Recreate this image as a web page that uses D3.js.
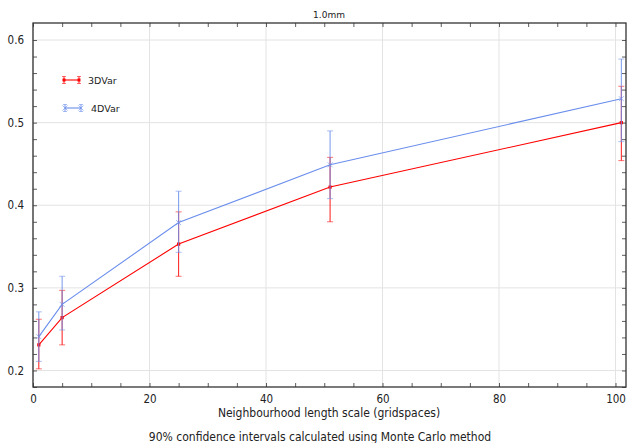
<!DOCTYPE html>
<html>
<head>
<meta charset="utf-8">
<script src="https://cdn.jsdelivr.net/npm/d3@7"></script>
<style>
  body { margin: 0; background: #fff; }
  svg { font-family: "DejaVu Sans", sans-serif; }
  .cond { font-family: "DejaVu Sans Condensed", "DejaVu Sans", sans-serif; font-stretch: condensed; }
</style>
</head>
<body>
<div id="main"></div>
<script>
// data
var lengthScales = [1, 5, 25, 51, 101];
var var3dMean = [0.231, 0.264, 0.353, 0.422, 0.500];
var var3dLow = [0.202, 0.231, 0.314, 0.380, 0.454];
var var3dHigh = [0.262, 0.297, 0.392, 0.458, 0.544];
var var4dMean = [0.241, 0.280, 0.379, 0.449, 0.529];
var var4dLow = [0.211, 0.249, 0.343, 0.408, 0.477];
var var4dHigh = [0.271, 0.314, 0.417, 0.490, 0.577];
var xTicks = [0, 20, 40, 60, 80, 100];
var yTicks = [0.2, 0.3, 0.4, 0.5, 0.6];

var width = 628, height = 443;
var padding = { top: 23, right: 2, bottom: 56, left: 33 };

var svg = d3.select("#main").append("svg")
    .attr("width", width)
    .attr("height", height);

var x = d3.scaleLinear().domain([0, 101.8]).range([padding.left, width - padding.right]);
var y = d3.scaleLinear().domain([0.18, 0.6206]).range([height - padding.bottom, padding.top]);

var axisColor = "#333";
var red = "#ff0000", blue = "#6a8eec";

// grid
svg.append("g").selectAll("line").data(xTicks).enter().append("line")
    .attr("x1", d => x(d)).attr("x2", d => x(d))
    .attr("y1", y.range()[0]).attr("y2", y.range()[1])
    .attr("stroke", "#e3e3e3").attr("stroke-width", 1);
svg.append("g").selectAll("line").data(yTicks).enter().append("line")
    .attr("x1", x.range()[0]).attr("x2", x.range()[1])
    .attr("y1", d => y(d)).attr("y2", d => y(d))
    .attr("stroke", "#e3e3e3").attr("stroke-width", 1);

// axes with inward ticks
var xMinor = d3.range(0, 101, 5);
var yMinor = d3.range(0.18, 0.62, 0.02);

function styleAxis(g) {
    g.select(".domain").remove();
    g.selectAll("line").attr("stroke", axisColor).attr("stroke-width", 0.8);
    g.selectAll("text").attr("fill", "#222").attr("class", "cond").style("font-size", "11.5px");
}

svg.append("g").attr("transform", "translate(0," + y.range()[0] + ")")
    .call(d3.axisBottom(x).tickValues(xMinor).tickSize(-4).tickFormat(d => d % 20 === 0 ? d : "").tickPadding(8))
    .call(styleAxis);
svg.append("g").attr("transform", "translate(0," + y.range()[1] + ")")
    .call(d3.axisTop(x).tickValues(xMinor).tickSize(-4).tickFormat(""))
    .call(styleAxis);
svg.append("g").attr("transform", "translate(" + x.range()[0] + ",0)")
    .call(d3.axisLeft(y).tickValues(yMinor).tickSize(-4).tickFormat(d => {
        var r = Math.round(d * 100);
        return r % 10 === 0 ? d3.format(".1f")(d) : "";
    }).tickPadding(9))
    .call(styleAxis);
svg.append("g").attr("transform", "translate(" + x.range()[1] + ",0)")
    .call(d3.axisRight(y).tickValues(yMinor).tickSize(-4).tickFormat(""))
    .call(styleAxis);

// frame
svg.append("rect")
    .attr("x", x.range()[0]).attr("y", y.range()[1])
    .attr("width", x.range()[1] - x.range()[0])
    .attr("height", y.range()[0] - y.range()[1])
    .attr("fill", "none").attr("stroke", axisColor).attr("stroke-width", 1.3);

// series
var series = [
    { name: "3DVar", color: red, mean: var3dMean, low: var3dLow, high: var3dHigh, marker: "dot" },
    { name: "4DVar", color: blue, mean: var4dMean, low: var4dLow, high: var4dHigh, marker: "x" }
];

var line = d3.line().x(d => x(d.x)).y(d => y(d.m));

series.forEach(function (s) {
    var pts = lengthScales.map((v, i) => ({ x: v, m: s.mean[i], lo: s.low[i], hi: s.high[i] }));
    var g = svg.append("g");
    // error bars
    var eb = g.selectAll(".eb").data(pts).enter().append("g");
    eb.append("line")
        .attr("x1", d => x(d.x)).attr("x2", d => x(d.x))
        .attr("y1", d => y(d.lo)).attr("y2", d => y(d.hi))
        .attr("stroke", s.color).attr("stroke-width", 1).attr("opacity", 0.9);
    eb.append("line")
        .attr("x1", d => x(d.x) - 3).attr("x2", d => x(d.x) + 3)
        .attr("y1", d => y(d.lo)).attr("y2", d => y(d.lo))
        .attr("stroke", s.color).attr("stroke-width", 1).attr("opacity", 0.55);
    eb.append("line")
        .attr("x1", d => x(d.x) - 3).attr("x2", d => x(d.x) + 3)
        .attr("y1", d => y(d.hi)).attr("y2", d => y(d.hi))
        .attr("stroke", s.color).attr("stroke-width", 1).attr("opacity", 0.55);
    g.append("path").datum(pts)
        .attr("d", line).attr("fill", "none")
        .attr("stroke", s.color).attr("stroke-width", 1.1);
    if (s.marker === "dot") {
        g.selectAll(".mk").data(pts).enter().append("rect")
            .attr("x", d => x(d.x) - 1.6).attr("y", d => y(d.m) - 1.6)
            .attr("width", 3.2).attr("height", 3.2).attr("fill", s.color);
    } else {
        g.selectAll(".mk").data(pts).enter().append("path")
            .attr("d", d => {
                var cx = x(d.x), cy = y(d.m), r = 2.5;
                return "M" + (cx - r) + "," + (cy - r) + "L" + (cx + r) + "," + (cy + r) +
                    "M" + (cx - r) + "," + (cy + r) + "L" + (cx + r) + "," + (cy - r);
            })
            .attr("stroke", s.color).attr("stroke-width", 1).attr("opacity", 0.6);
    }
});

// legend
var legend = svg.append("g").attr("transform", "translate(52,66)");
legend.append("rect").attr("width", 74).attr("height", 56).attr("fill", "#fff");
var legendRows = [
    { s: series[0], y: 14, x0: 12, x1: 27, tx: 36 },
    { s: series[1], y: 42, x0: 13, x1: 29, tx: 39 }
];
legendRows.forEach(function (r) {
    var lg = legend.append("g");
    lg.append("line").attr("x1", r.x0).attr("x2", r.x1).attr("y1", r.y).attr("y2", r.y)
        .attr("stroke", r.s.color).attr("stroke-width", 1.1);
    [r.x0, r.x1].forEach(function (px) {
        lg.append("line").attr("x1", px).attr("x2", px).attr("y1", r.y - 3.5).attr("y2", r.y + 3.5)
            .attr("stroke", r.s.color).attr("stroke-width", 1).attr("opacity", 0.9);
        lg.append("line").attr("x1", px - 2).attr("x2", px + 2).attr("y1", r.y - 3.5).attr("y2", r.y - 3.5)
            .attr("stroke", r.s.color).attr("stroke-width", 1).attr("opacity", 0.55);
        lg.append("line").attr("x1", px - 2).attr("x2", px + 2).attr("y1", r.y + 3.5).attr("y2", r.y + 3.5)
            .attr("stroke", r.s.color).attr("stroke-width", 1).attr("opacity", 0.55);
        if (r.s.marker === "dot") {
            lg.append("rect").attr("x", px - 1.5).attr("y", r.y - 1.5).attr("width", 3).attr("height", 3).attr("fill", r.s.color);
        } else {
            lg.append("path").attr("d", "M" + (px - 2.5) + "," + (r.y - 2.5) + "L" + (px + 2.5) + "," + (r.y + 2.5) +
                "M" + (px - 2.5) + "," + (r.y + 2.5) + "L" + (px + 2.5) + "," + (r.y - 2.5))
                .attr("stroke", r.s.color).attr("stroke-width", 1).attr("opacity", 0.6);
        }
    });
    lg.append("text").attr("x", r.tx).attr("y", r.y + 3.5).text(r.s.name)
        .style("font-size", "9.5px").attr("fill", "#222");
});

// titles
svg.append("text").attr("x", 329).attr("y", 18).attr("text-anchor", "middle")
    .style("font-size", "9px").attr("fill", "#222").text("1.0mm");
svg.append("text").attr("class", "cond").attr("x", 329).attr("y", 417).attr("text-anchor", "middle")
    .style("font-size", "12px").attr("fill", "#222").text("Neighbourhood length scale (gridspaces)");
svg.append("text").attr("class", "cond").attr("x", 320).attr("y", 441).attr("text-anchor", "middle")
    .style("font-size", "12px").attr("fill", "#222").text("90% confidence intervals calculated using Monte Carlo method");
</script>
</body>
</html>
